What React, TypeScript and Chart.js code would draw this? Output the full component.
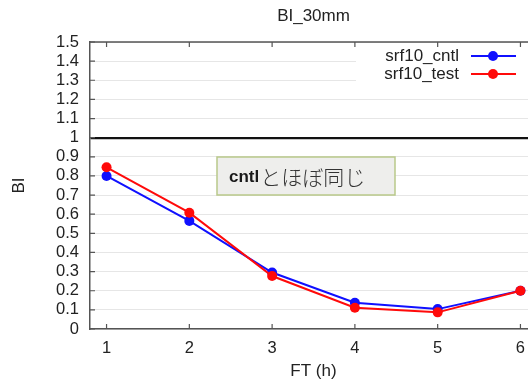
import { useEffect, useRef } from "react";
import { Chart, registerables } from "chart.js";

Chart.register(...registerables);

// Forecast time (hours) and BI scores for the 30 mm threshold
const ftHours = [1, 2, 3, 4, 5, 6];
const cntlBI = [0.8, 0.565, 0.295, 0.137, 0.104, 0.2];
const testBI = [0.845, 0.608, 0.277, 0.111, 0.087, 0.2];
const yTickLabels = ["0", "0.1", "0.2", "0.3", "0.4", "0.5", "0.6", "0.7", "0.8", "0.9", "1", "1.1", "1.2", "1.3", "1.4", "1.5"];
const seriesNames = ["srf10_cntl", "srf10_test"];
const chartTitle = "BI_30mm";
const xTitle = "FT (h)";
const yTitle = "BI";
const noteText = ["cntl", "とほぼ同じ"];

const CANVAS_W = 545;
const CANVAS_H = 380;
const FONT = "'Liberation Sans', Arial, Helvetica, sans-serif";
const TEXT = "#222";
const BLUE = "#1010ff";
const RED = "#ff0a0a";

const decorations = {
  id: "decorations",
  beforeDatasetsDraw(chart: any) {
    const { ctx, chartArea: a, scales } = chart;
    ctx.save();
    // white backing for the legend
    ctx.fillStyle = "#fff";
    ctx.fillRect(356, a.top + 1, a.right - 356, 46);
    // inward tick marks (left, bottom and mirrored top)
    ctx.strokeStyle = "#555";
    ctx.lineWidth = 1.2;
    ctx.beginPath();
    scales.y.ticks.forEach((t: any) => {
      const py = scales.y.getPixelForValue(t.value);
      ctx.moveTo(a.left, py);
      ctx.lineTo(a.left + 5, py);
    });
    scales.x.ticks.forEach((t: any) => {
      const px = scales.x.getPixelForValue(t.value);
      ctx.moveTo(px, a.bottom);
      ctx.lineTo(px, a.bottom - 5);
      ctx.moveTo(px, a.top);
      ctx.lineTo(px, a.top + 5);
    });
    ctx.stroke();
    // top border
    ctx.lineWidth = 1.5;
    ctx.beginPath();
    ctx.moveTo(a.left, a.top);
    ctx.lineTo(a.right, a.top);
    ctx.stroke();
    ctx.restore();
  },
  afterDatasetsDraw(chart: any) {
    const { ctx, chartArea: a } = chart;
    ctx.save();
    // title
    ctx.fillStyle = TEXT;
    ctx.font = `17px ${FONT}`;
    ctx.textAlign = "center";
    ctx.textBaseline = "middle";
    ctx.fillText(chartTitle, 313.5, 16);
    // axis titles
    ctx.fillText(xTitle, 313.5, 371);
    ctx.save();
    ctx.translate(19, (a.top + a.bottom) / 2);
    ctx.rotate(-Math.PI / 2);
    ctx.fillText(yTitle, 0, 0);
    ctx.restore();

    // legend
    const colors = [BLUE, RED];
    seriesNames.forEach((name, i) => {
      const y = 56 + i * 18;
      ctx.fillStyle = TEXT;
      ctx.textAlign = "right";
      ctx.fillText(name, 459, y);
      ctx.strokeStyle = colors[i];
      ctx.lineWidth = 2;
      ctx.beginPath();
      ctx.moveTo(471, y);
      ctx.lineTo(516, y);
      ctx.stroke();
      ctx.fillStyle = colors[i];
      ctx.beginPath();
      ctx.arc(493, y, 5, 0, Math.PI * 2);
      ctx.fill();
    });

    // note box
    ctx.fillStyle = "#eeeeec";
    ctx.fillRect(217, 157, 178, 38);
    ctx.strokeStyle = "#b9c98a";
    ctx.lineWidth = 1.5;
    ctx.strokeRect(217, 157, 178, 38);
    ctx.textAlign = "left";
    ctx.fillStyle = "#1a1a1a";
    ctx.font = `bold 17px ${FONT}`;
    ctx.fillText(noteText[0], 229, 177);
    const w0 = ctx.measureText(noteText[0]).width;
    ctx.font = `300 21px 'Noto Sans CJK JP', sans-serif`;
    ctx.fillStyle = "#333";
    ctx.fillText(noteText[1], 229 + w0 + 1, 177);
    ctx.restore();
  },
};

export default function App() {
  const ref = useRef<HTMLCanvasElement | null>(null);

  useEffect(() => {
    if (!ref.current) return;
    const chart = new Chart(ref.current, {
      type: "line",
      data: {
        datasets: [
          {
            label: seriesNames[0],
            data: ftHours.map((x, i) => ({ x, y: cntlBI[i] })),
            borderColor: BLUE,
            backgroundColor: BLUE,
            borderWidth: 2,
            pointRadius: 5,
            pointBorderWidth: 0,
            order: 2,
          },
          {
            label: seriesNames[1],
            data: ftHours.map((x, i) => ({ x, y: testBI[i] })),
            borderColor: RED,
            backgroundColor: RED,
            borderWidth: 2,
            pointRadius: 5,
            pointBorderWidth: 0,
            order: 1,
          },
        ],
      },
      options: {
        responsive: false,
        animation: false,
        layout: { padding: { left: 0, top: 42, right: CANVAS_W - 537, bottom: 0 } },
        plugins: {
          legend: { display: false },
          title: { display: false },
          tooltip: { enabled: false },
        },
        scales: {
          x: {
            type: "linear",
            min: 0.8,
            max: 6.2,
            afterBuildTicks: (s: any) => {
              s.ticks = ftHours.map((v) => ({ value: v }));
            },
            afterFit: (s: any) => {
              s.height = CANVAS_H - 329;
            },
            grid: { drawOnChartArea: false, drawTicks: false },
            border: { display: true, color: "#555", width: 1.5 },
            ticks: {
              padding: 10,
              autoSkip: false,
              maxRotation: 0,
              color: TEXT,
              font: { family: FONT, size: 16.5 },
              callback: (v: any) => String(v),
            },
          },
          y: {
            min: 0,
            max: 1.5,
            afterBuildTicks: (s: any) => {
              s.ticks = yTickLabels.map((l) => ({ value: parseFloat(l) }));
            },
            afterFit: (s: any) => {
              s.width = 90;
            },
            grid: {
              drawTicks: false,
              color: (c: any) => (c.tick && Math.abs(c.tick.value - 1) < 1e-9 ? "#111" : "#e6e6e6"),
              lineWidth: (c: any) => (c.tick && Math.abs(c.tick.value - 1) < 1e-9 ? 2.2 : 1),
            },
            border: { display: true, color: "#555", width: 1.5 },
            ticks: {
              padding: 11,
              autoSkip: false,
              color: TEXT,
              font: { family: FONT, size: 16.5 },
              callback: (_v: any, i: number) => yTickLabels[i],
            },
          },
        },
      },
      plugins: [decorations],
    });
    return () => chart.destroy();
  }, []);

  return (
    <div
      style={{
        position: "fixed",
        left: 0,
        top: 0,
        width: 528,
        height: 380,
        overflow: "hidden",
        background: "#fff",
      }}
    >
      <canvas ref={ref} width={CANVAS_W} height={CANVAS_H} style={{ display: "block", width: CANVAS_W, height: CANVAS_H }} />
    </div>
  );
}
